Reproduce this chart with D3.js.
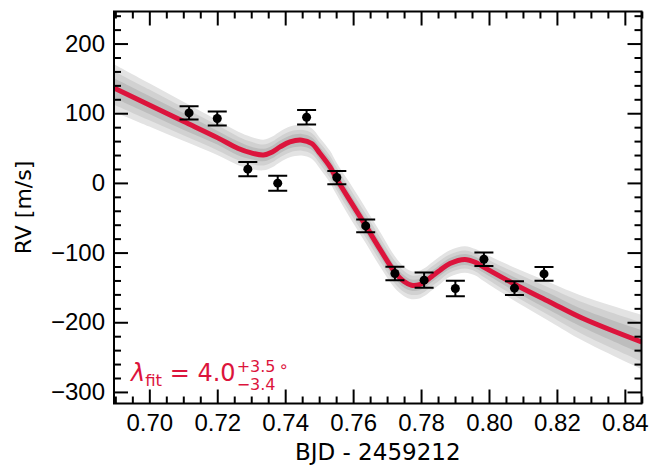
<!DOCTYPE html>
<html>
<head>
<meta charset="utf-8">
<script src="https://cdn.jsdelivr.net/npm/d3@7"></script>
<style>
  body { margin: 0; background: #fff; }
  svg { display: block; font-family: "DejaVu Sans", sans-serif; }
</style>
</head>
<body>
<svg id="chart"></svg>
<script>
// observed RVs (BJD - 2459212, m/s)
const obsTime = [0.7117, 0.7200, 0.7290, 0.7378, 0.7463, 0.7552, 0.7637, 0.7723, 0.7809, 0.7901, 0.7985, 0.8075, 0.8162];
const obsRV   = [100.5, 92.4, 19.7, -0.4, 94.3, 7.7, -61.7, -130.0, -139.6, -151.5, -109.5, -151.1, -130.6];
const obsErr  = [9.5, 10.0, 10.3, 10.8, 10.3, 9.5, 9.1, 9.6, 11.0, 11.2, 9.6, 9.8, 9.8];

// best fit model
const modelTime = [0.6896, 0.700, 0.710, 0.720, 0.7262, 0.7300, 0.7336, 0.7362, 0.7385, 0.7414, 0.7449, 0.7478, 0.7502, 0.7532, 0.7551, 0.7590, 0.7637, 0.7679, 0.7723, 0.7750, 0.7772, 0.7795, 0.7811, 0.7835, 0.7856, 0.7885, 0.7929, 0.7960, 0.7983, 0.8081, 0.8179, 0.8277, 0.8449];
const modelRV   = [136.3, 111.9, 88.4, 65.0, 49.4, 43.0, 40.0, 44.5, 51.7, 58.8, 61.3, 56.5, 42.6, 23.0, 6.3, -24.8, -61.4, -95.1, -128.2, -141.5, -146.8, -146.0, -142.1, -133.0, -125.3, -115.7, -109.9, -114.0, -120.6, -146.8, -170.8, -194.6, -228.2];
// half widths of the 1, 2, 3 sigma bands
const band1 = [14, 13, 12, 10, 10, 9, 9, 9, 9, 9, 9, 9, 9, 10, 10, 10, 10, 10, 9, 9, 8, 8, 8, 8, 8, 8, 8, 8, 8, 10, 12, 13, 17];
const band2 = [24, 22, 20, 18, 17, 16, 15, 15, 15, 15, 15, 15, 15, 16, 16, 17, 17, 17, 16, 15, 14, 14, 14, 14, 14, 13, 13, 13, 14, 17, 20, 23, 28];
const band3 = [34, 31, 28, 25, 24, 23, 22, 22, 22, 22, 22, 22, 22, 23, 23, 25, 25, 25, 23, 21, 20, 20, 20, 20, 20, 19, 19, 19, 20, 24, 28, 32, 39];

const xTicks = [0.70, 0.72, 0.74, 0.76, 0.78, 0.80, 0.82, 0.84];
const yTicks = [-300, -200, -100, 0, 100, 200];

const width = 650, height = 467;
const margin = { top: 11.5, right: 8.5, bottom: 63.5, left: 114 };
const innerW = width - margin.left - margin.right;
const innerH = height - margin.top - margin.bottom;

const svg = d3.select("#chart").attr("width", width).attr("height", height);

const x = d3.scaleLinear().domain([0.6896, 0.8449]).range([0, innerW]);
const y = d3.scaleLinear().domain([-316.6, 246]).range([innerH, 0]);

svg.append("defs").append("clipPath").attr("id", "clip")
  .append("rect").attr("width", innerW).attr("height", innerH);

const g = svg.append("g").attr("transform", `translate(${margin.left},${margin.top})`);
const plot = g.append("g").attr("clip-path", "url(#clip)");

const model = modelTime.map((t, i) => ({ t, rv: modelRV[i], b1: band1[i], b2: band2[i], b3: band3[i] }));
const curve = d3.curveCatmullRom.alpha(0.5);

// bands, widest first
const bands = [
  { key: "b3", color: "#e3e3e3" },
  { key: "b2", color: "#d1d1d1" },
  { key: "b1", color: "#bdbdbd" },
];
bands.forEach(b => {
  const area = d3.area()
    .x(d => x(d.t))
    .y0(d => y(d.rv - d[b.key]))
    .y1(d => y(d.rv + d[b.key]))
    .curve(curve);
  plot.append("path").datum(model).attr("d", area).attr("fill", b.color);
});

const line = d3.line().x(d => x(d.t)).y(d => y(d.rv)).curve(curve);
plot.append("path").datum(model).attr("d", line)
  .attr("fill", "none").attr("stroke", "#dc143c").attr("stroke-width", 5)
  .attr("stroke-linejoin", "round");

// data points with error bars
const obs = obsTime.map((t, i) => ({ t, rv: obsRV[i], err: obsErr[i] }));
const pts = plot.selectAll(".pt").data(obs).join("g").attr("class", "pt");
pts.append("line")
  .attr("x1", d => x(d.t)).attr("x2", d => x(d.t))
  .attr("y1", d => y(d.rv - d.err)).attr("y2", d => y(d.rv + d.err))
  .attr("stroke", "#000").attr("stroke-width", 2);
[-1, 1].forEach(s => {
  pts.append("line")
    .attr("x1", d => x(d.t) - 9.5).attr("x2", d => x(d.t) + 9.5)
    .attr("y1", d => y(d.rv + s * d.err)).attr("y2", d => y(d.rv + s * d.err))
    .attr("stroke", "#000").attr("stroke-width", 2);
});
pts.append("circle").attr("cx", d => x(d.t)).attr("cy", d => y(d.rv)).attr("r", 4.5).attr("fill", "#000");

// axes, ticks pointing inward on all sides
const xMinor = d3.range(0.690, 0.8451, 0.005).filter(v => !xTicks.some(t => Math.abs(t - v) < 1e-6));
const yMinor = d3.range(-300, 241, 20).filter(v => v % 100 !== 0);

function styleAxis(sel) {
  sel.select(".domain").remove();
  sel.selectAll(".tick line").attr("stroke-width", 2);
  sel.selectAll(".tick text").attr("font-size", 24).attr("fill", "#000");
}

g.append("g").attr("transform", `translate(0,${innerH})`)
  .call(d3.axisBottom(x).tickValues(xTicks).tickFormat(d3.format(".2f")).tickSize(-14).tickPadding(10))
  .call(styleAxis);
g.append("g").attr("transform", `translate(0,${innerH})`)
  .call(d3.axisBottom(x).tickValues(xMinor).tickFormat("").tickSize(-7)).call(styleAxis);
g.append("g")
  .call(d3.axisTop(x).tickValues(xTicks).tickFormat("").tickSize(-14)).call(styleAxis);
g.append("g")
  .call(d3.axisTop(x).tickValues(xMinor).tickFormat("").tickSize(-7)).call(styleAxis);

g.append("g")
  .call(d3.axisLeft(y).tickValues(yTicks).tickFormat(d => d < 0 ? "\u2212" + Math.abs(d) : d).tickSize(-14).tickPadding(9))
  .call(styleAxis);
g.append("g")
  .call(d3.axisLeft(y).tickValues(yMinor).tickFormat("").tickSize(-7)).call(styleAxis);
g.append("g").attr("transform", `translate(${innerW},0)`)
  .call(d3.axisRight(y).tickValues(yTicks).tickFormat("").tickSize(-14)).call(styleAxis);
g.append("g").attr("transform", `translate(${innerW},0)`)
  .call(d3.axisRight(y).tickValues(yMinor).tickFormat("").tickSize(-7)).call(styleAxis);

// frame
g.append("rect").attr("width", innerW).attr("height", innerH)
  .attr("fill", "none").attr("stroke", "#000").attr("stroke-width", 2);

// axis labels
svg.append("text").attr("x", margin.left + innerW / 2).attr("y", 460)
  .attr("text-anchor", "middle").attr("font-size", 23).text("BJD - 2459212");
svg.append("text").attr("transform", `translate(31,${margin.top + innerH / 2}) rotate(-90)`)
  .attr("text-anchor", "middle").attr("font-size", 22).text("RV [m/s]");

// lambda annotation
const red = "#dc143c";
const ann = svg.append("g").attr("fill", red);
const main = ann.append("text").attr("x", 131).attr("y", 381).attr("font-size", 24);
main.append("tspan").attr("font-style", "italic").text("\u03bb");
main.append("tspan").attr("font-size", 16.5).attr("dy", 5).text("fit");
main.append("tspan").attr("dy", -5).text(" = 4.0");
const endX = 131 + main.node().getComputedTextLength() + 1;
ann.append("text").attr("x", endX).attr("y", 372).attr("font-size", 16).text("+3.5");
const sub = ann.append("text").attr("x", endX).attr("y", 390).attr("font-size", 16).text("\u22123.4");
const supW = Math.max(sub.node().getComputedTextLength(), 35);
ann.append("text").attr("x", endX + supW + 3).attr("y", 372).attr("font-size", 16).text("\u2218");
</script>
</body>
</html>
